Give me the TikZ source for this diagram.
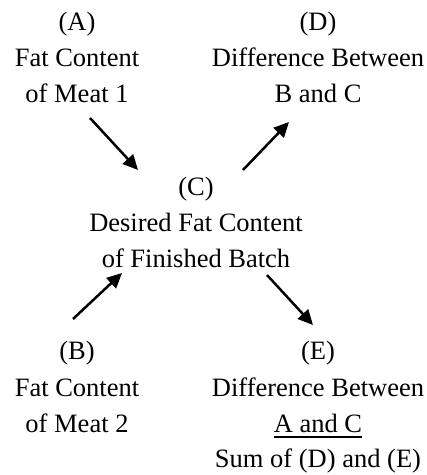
\documentclass[tikz,border=0pt]{standalone}
\usepackage{fontspec}
\setmainfont{Liberation Serif}
\usetikzlibrary{arrows.meta}
\begin{document}
\begin{tikzpicture}[x=1pt,y=-1pt,
  txt/.style={anchor=base,inner sep=0pt,font=\fontsize{26.5}{30}\selectfont},
  arr/.style={line width=2.5pt,-{Triangle[length=15pt,width=14pt]}}]
\useasboundingbox (0,0) rectangle (427,475);
% A
\node[txt] (a1) at (77,30) {(A)};
\node[txt] (a2) at (77,66) {Fat Content};
\node[txt] (a3) at (77,102) {of Meat 1};
% D
\node[txt] (d1) at (318,30) {(D)};
\node[txt] (d2) at (318,66) {Difference Between};
\node[txt] (d3) at (318,102) {B and C};
% C
\node[txt] (c1) at (196,195) {(C)};
\node[txt] (c2) at (196,231) {Desired Fat Content};
\node[txt] (c3) at (196,267) {of Finished Batch};
% B
\node[txt] (b1) at (77,359) {(B)};
\node[txt] (b2) at (77,396) {Fat Content};
\node[txt] (b3) at (77,432) {of Meat 2};
% E
\node[txt] (e1) at (318,359) {(E)};
\node[txt] (e2) at (318,396) {Difference Between};
\node[txt] (e3) at (318,432) {A and C};
\node[txt] (e4) at (318,467) {Sum of (D) and (E)};
\draw[line width=2pt] ([yshift=-5pt]e3.base west) -- ([yshift=-5pt]e3.base east);
% arrow endpoints
\coordinate (ac0) at (90,118);
\coordinate (ac1) at (138,170);
\coordinate (cd0) at (243,170);
\coordinate (cd1) at (289,122);
\coordinate (bc0) at (73,319);
\coordinate (bc1) at (122,273);
\coordinate (ce0) at (267,275);
\coordinate (ce1) at (313,325);
\draw[arr] (ac0) -- (ac1);
\draw[arr] (cd0) -- (cd1);
\draw[arr] (bc0) -- (bc1);
\draw[arr] (ce0) -- (ce1);
\end{tikzpicture}
\end{document}
